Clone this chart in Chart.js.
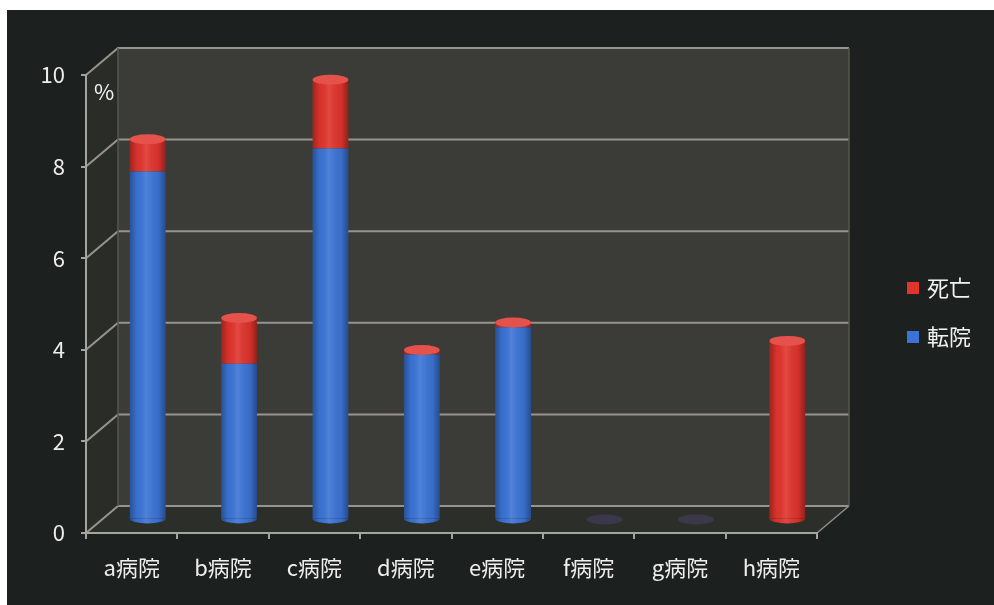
<!DOCTYPE html>
<html>
<head>
<meta charset="utf-8">
<script src="https://cdn.jsdelivr.net/npm/chart.js@4.4.0/dist/chart.umd.min.js"></script>
<style>
  html, body { margin: 0; padding: 0; background: #fff; }
</style>
</head>
<body>
<canvas id="grafico" width="994" height="605"></canvas>
<script>
// ---- datos ----
const hospitales = ["a病院", "b病院", "c病院", "d病院", "e病院", "f病院", "g病院", "h病院"];
const tenin = [7.6, 3.4, 8.1, 3.6, 4.2, 0, 0, 0];     // 転院
const shibou = [0.7, 1.0, 1.5, 0.1, 0.1, 0, 0, 3.9];  // 死亡
const ticksY = [0, 2, 4, 6, 8, 10];

const FUENTE = '"Noto Sans CJK JP", "Noto Sans", sans-serif';
const AZUL = "#3b74d6";
const ROJO = "#e0342c";
const DX = 32, DY = -27; // profundidad de la caja 3D

// fondo, paredes y rejilla
const fondo3d = {
  id: "fondo3d",
  beforeDraw(chart) {
    const { ctx, width, height } = chart;
    const a = chart.chartArea;
    const y = chart.scales.y;
    ctx.save();
    ctx.fillStyle = "#ffffff";
    ctx.fillRect(0, 0, width, height);
    ctx.fillStyle = "#1c201f";
    ctx.fillRect(7, 10, width - 7, height - 10);

    // pared izquierda
    ctx.fillStyle = "#2a2c28";
    ctx.beginPath();
    ctx.moveTo(a.left, a.top);
    ctx.lineTo(a.left + DX, a.top + DY);
    ctx.lineTo(a.left + DX, a.bottom + DY);
    ctx.lineTo(a.left, a.bottom);
    ctx.closePath();
    ctx.fill();

    // pared del fondo
    ctx.fillStyle = "#3b3c37";
    ctx.fillRect(a.left + DX, a.top + DY, a.right - a.left, a.bottom - a.top);

    // suelo
    ctx.fillStyle = "#2c2e2a";
    ctx.beginPath();
    ctx.moveTo(a.left, a.bottom);
    ctx.lineTo(a.right, a.bottom);
    ctx.lineTo(a.right + DX, a.bottom + DY);
    ctx.lineTo(a.left + DX, a.bottom + DY);
    ctx.closePath();
    ctx.fill();

    // rejilla
    ctx.strokeStyle = "#97938e";
    ctx.lineWidth = 2;
    ticksY.forEach(v => {
      const py = y.getPixelForValue(v);
      ctx.beginPath();
      ctx.moveTo(a.left, py);
      ctx.lineTo(a.left + DX, py + DY);
      ctx.lineTo(a.right + DX, py + DY);
      ctx.stroke();
    });
    ctx.lineWidth = 1.5;
    ctx.strokeStyle = "#56574f";
    ctx.beginPath();
    ctx.moveTo(a.left + DX, a.top + DY);
    ctx.lineTo(a.left + DX, a.bottom + DY);
    ctx.moveTo(a.right + DX, a.top + DY);
    ctx.lineTo(a.right + DX, a.bottom + DY);
    ctx.stroke();
    ctx.strokeStyle = "#8e8e89";
    ctx.beginPath();
    ctx.moveTo(a.right, a.bottom);
    ctx.lineTo(a.right + DX, a.bottom + DY);
    ctx.stroke();
    ctx.restore();
  }
};

// barras como cilindros, a media profundidad
const cilindros = {
  id: "cilindros",
  beforeDatasetsDraw(chart) {
    chart.ctx.save();
    chart.ctx.translate(DX / 2, DY / 2);
  },
  afterDatasetsDraw(chart) {
    const ctx = chart.ctx;
    const RY = 5;
    const metas = chart.data.datasets.map((ds, i) => chart.getDatasetMeta(i));
    hospitales.forEach((h, j) => {
      const segs = chart.data.datasets.map((ds, i) => ({ v: ds.data[j], color: ds.backgroundColor, el: metas[i].data[j] }));
      const llenos = segs.filter(s => s.v > 0);
      if (llenos.length === 0) {
        const el = segs[0].el;
        ctx.fillStyle = "rgba(62,58,82,0.85)";
        ctx.beginPath();
        ctx.ellipse(el.x, el.base, el.width / 2, RY, 0, 0, Math.PI * 2);
        ctx.fill();
        return;
      }
      llenos.forEach((s, k) => {
        const { x, y, base, width } = s.el;
        const l = x - width / 2;
        const g = ctx.createLinearGradient(l, 0, l + width, 0);
        g.addColorStop(0, "rgba(0,0,0,0.3)");
        g.addColorStop(0.2, "rgba(0,0,0,0.03)");
        g.addColorStop(0.45, "rgba(255,255,255,0.10)");
        g.addColorStop(0.8, "rgba(0,0,0,0.06)");
        g.addColorStop(1, "rgba(0,0,0,0.35)");
        if (k === 0) {
          ctx.fillStyle = s.color;
          ctx.beginPath();
          ctx.ellipse(x, base, width / 2, RY, 0, 0, Math.PI);
          ctx.fill();
        }
        ctx.fillStyle = g;
        ctx.fillRect(l, y, width, base - y);
        if (k === 0) {
          ctx.beginPath();
          ctx.ellipse(x, base, width / 2, RY, 0, 0, Math.PI);
          ctx.fill();
        }
        if (k === llenos.length - 1) {
          ctx.fillStyle = s.color;
          ctx.beginPath();
          ctx.ellipse(x, y, width / 2, RY, 0, 0, Math.PI * 2);
          ctx.fill();
          ctx.fillStyle = "rgba(255,255,255,0.15)";
          ctx.beginPath();
          ctx.ellipse(x, y, width / 2, RY, 0, 0, Math.PI * 2);
          ctx.fill();
        }
      });
    });
    ctx.restore();
  }
};

// leyenda y "%"
const leyenda = {
  id: "leyenda",
  afterDraw(chart) {
    const ctx = chart.ctx;
    ctx.save();
    ctx.font = "22px " + FUENTE;
    ctx.fillStyle = "#f2f2f2";
    ctx.textBaseline = "middle";
    ctx.textAlign = "left";
    ctx.fillText("%", 94, 92);
    const items = chart.data.datasets.slice().reverse();
    items.forEach((ds, i) => {
      const cy = 288 + i * 49;
      ctx.fillStyle = ds.backgroundColor;
      ctx.fillRect(907, cy - 6, 12, 12);
      ctx.fillStyle = "#f2f2f2";
      ctx.fillText(ds.label, 927, cy);
    });
    ctx.restore();
  }
};

const colorEje = "#a5a5a0";

new Chart(document.getElementById("grafico"), {
  type: "bar",
  data: {
    labels: hospitales,
    datasets: [
      { label: "転院", data: tenin, backgroundColor: AZUL },
      { label: "死亡", data: shibou, backgroundColor: ROJO }
    ]
  },
  options: {
    responsive: false,
    animation: false,
    layout: { padding: { left: 0, top: 75, right: 177, bottom: 0 } },
    plugins: { legend: { display: false }, tooltip: { enabled: false } },
    datasets: { bar: { categoryPercentage: 1, barPercentage: 0.39 } },
    scales: {
      x: {
        stacked: true,
        grid: { drawOnChartArea: false, tickLength: 6, color: colorEje, lineWidth: 2, offset: true },
        border: { color: colorEje, width: 2 },
        ticks: { color: "#eeeeee", font: { family: FUENTE, size: 22 }, padding: 15 },
        afterFit: s => { s.height = 72; }
      },
      y: {
        stacked: true,
        min: 0,
        max: 10,
        grid: { drawOnChartArea: false, tickLength: 5, color: colorEje, lineWidth: 2 },
        border: { color: colorEje, width: 2 },
        ticks: { stepSize: 2, color: "#eeeeee", font: { family: FUENTE, size: 22 }, padding: 16 },
        afterFit: s => { s.width = 86; }
      }
    }
  },
  plugins: [fondo3d, cilindros, leyenda]
});
</script>
</body>
</html>
